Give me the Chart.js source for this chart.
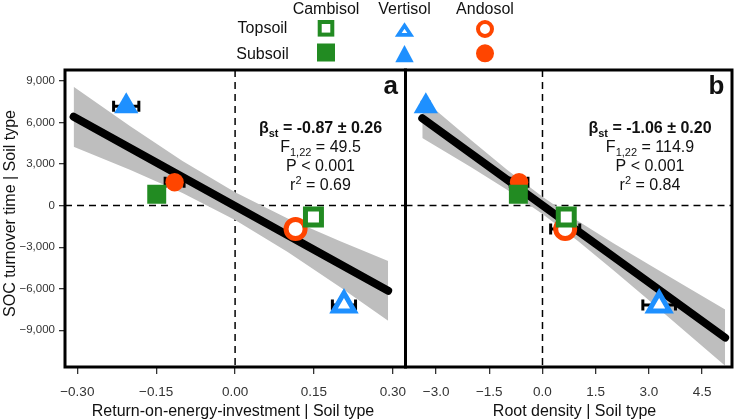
<!DOCTYPE html>
<html>
<head>
<meta charset="utf-8">
<script src="https://cdn.jsdelivr.net/npm/chart.js@4.4.1/dist/chart.umd.min.js"></script>
<style>
  html, body { margin: 0; padding: 0; background: #fff; }
  #wrap { position: relative; width: 749px; height: 420px; }
  #wrap canvas { position: absolute; left: 0; top: 0; }
</style>
</head>
<body>
<div id="wrap">
  <canvas id="panelA" width="749" height="420"></canvas>
  <canvas id="panelB" width="749" height="420"></canvas>
</div>
<script>
// soil groups (order: Cambisol, Vertisol, Andosol)
const soilTypes = ["Cambisol", "Vertisol", "Andosol"];
const layers = ["Topsoil", "Subsoil"];

// panel a: return-on-energy-investment | soil type
const roeiTop = [0.149, 0.207, 0.115];
const roeiSub = [-0.149, -0.207, -0.115];
const roeiTopErr = [0.006, 0.022, 0.010];
const roeiSubErr = [0.006, 0.024, 0.018];

// panel b: root density | soil type
const rootTop = [0.67, 3.29, 0.64];
const rootSub = [-0.68, -3.29, -0.66];
const rootTopErr = [0.10, 0.46, 0.41];
const rootSubErr = [0.10, 0.10, 0.25];

// SOC turnover time | soil type (same in both panels)
const socTop = [-830, -7180, -1690];
const socSub = [815, 7170, 1690];

// fitted lines and confidence bands
const fitAX = [-0.307, 0.291];
const fitAY = [6418, -6150];
const bandAX = [-0.307, -0.2, -0.1, 0, 0.1, 0.2, 0.291];
const bandAHi = [8578, 5751, 3228, 967, -921, -2574, -3990];
const bandALo = [4258, 2587, 908, -1035, -3351, -5900, -8310];

const fitBX = [-3.39, 5.15];
const fitBY = [6300, -9530];
const bandBX = [-3.39, -2, -1, 0, 1, 2, 3, 4, 5.15];
const bandBHi = [7720, 4699, 2595, 636, -1113, -2715, -4256, -5768, -7494];
const bandBLo = [4880, 2747, 1145, -604, -2563, -4667, -6834, -9028, -11566];

// ticks
const yTicks = [-9000, -6000, -3000, 0, 3000, 6000, 9000];
const yTickLabels = ["\u22129,000", "\u22126,000", "\u22123,000", "0", "3,000", "6,000", "9,000"];
const xTicksA = [-0.30, -0.15, 0, 0.15, 0.30];
const xTickLabelsA = ["\u22120.30", "\u22120.15", "0.00", "0.15", "0.30"];
const xTicksB = [-3.0, -1.5, 0, 1.5, 3.0, 4.5];
const xTickLabelsB = ["\u22123.0", "\u22121.5", "0.0", "1.5", "3.0", "4.5"];

// model statistics
const statsA = ["-0.87 \u00b1 0.26", "49.5", "< 0.001", "0.69"];
const statsB = ["-1.06 \u00b1 0.20", "114.9", "< 0.001", "0.84"];

const FONT = '"Liberation Sans", Arial, Helvetica, sans-serif';
const soilColors = ["#228b22", "#1e90ff", "#ff4500"];
const soilShapes = ["rect", "triangle", "circle"];
const filledRadius = { rect: 13.4, triangle: 14, circle: 9.2 };
const openRadius = { rect: 11.3, triangle: 12, circle: 9.5 };
const drawOrder = [2, 1, 0]; // Andosol under Vertisol under Cambisol

function buildDatasets(xTop, xSub, errTop, errSub, fitX, fitY, bandX, bandHi, bandLo) {
  const ds = [];
  ds.push({
    data: bandX.map((x, i) => ({ x, y: bandHi[i] })),
    showLine: true, fill: false, pointRadius: 0,
    borderWidth: 0, borderColor: "rgba(0,0,0,0)"
  });
  ds.push({
    data: bandX.map((x, i) => ({ x, y: bandLo[i] })),
    showLine: true, fill: "-1", backgroundColor: "#bebebe", pointRadius: 0,
    borderWidth: 0, borderColor: "rgba(0,0,0,0)"
  });
  ds.push({
    data: fitX.map((x, i) => ({ x, y: fitY[i] })),
    showLine: true, borderColor: "#000", borderWidth: 8, borderCapStyle: "round",
    pointRadius: 0
  });
  // horizontal error bars with end caps
  drawOrder.forEach(i => {
    [[xSub[i], errSub[i], socSub[i]], [xTop[i], errTop[i], socTop[i]]].forEach(([x, e, y]) => {
      ds.push({
        data: [{ x: x - e, y }, { x: x + e, y }],
        showLine: true, borderColor: "#000", borderWidth: 3,
        pointStyle: "line", pointRotation: 90, pointRadius: 5.5,
        pointBorderColor: "#000", pointBorderWidth: 3
      });
    });
  });
  drawOrder.forEach(i => {
    const shape = soilShapes[i];
    ds.push({
      data: [{ x: xSub[i], y: socSub[i] }],
      pointStyle: shape, pointRadius: filledRadius[shape],
      pointBackgroundColor: soilColors[i], pointBorderWidth: 0, pointBorderColor: soilColors[i]
    });
    ds.push({
      data: [{ x: xTop[i], y: socTop[i] }],
      pointStyle: shape, pointRadius: openRadius[shape],
      pointBackgroundColor: "#fff", pointBorderColor: soilColors[i], pointBorderWidth: 5
    });
  });
  ds.forEach((d, i) => { d.order = ds.length - i; });
  return ds;
}

function richLine(ctx, parts, cx, y) {
  let w = 0;
  parts.forEach(p => { ctx.font = p.f; w += ctx.measureText(p.t).width; });
  let x = cx - w / 2;
  parts.forEach(p => {
    ctx.font = p.f;
    ctx.fillText(p.t, x, y + (p.dy || 0));
    x += ctx.measureText(p.t).width;
  });
}

function drawStats(ctx, s, cx) {
  const big = `16px ${FONT}`, bigB = `bold 16px ${FONT}`;
  const sm = `11px ${FONT}`, smB = `bold 11px ${FONT}`;
  ctx.fillStyle = "#111";
  ctx.textAlign = "left";
  ctx.textBaseline = "alphabetic";
  richLine(ctx, [{ t: "\u03b2", f: bigB }, { t: "st", f: smB, dy: 4 }, { t: " = " + s[0], f: bigB }], cx, 132.7);
  richLine(ctx, [{ t: "F", f: big }, { t: "1,22", f: sm, dy: 4 }, { t: " = " + s[1], f: big }], cx, 151.7);
  richLine(ctx, [{ t: "P " + s[2], f: big }], cx, 171);
  richLine(ctx, [{ t: "r", f: big }, { t: "2", f: sm, dy: -6 }, { t: " = " + s[3], f: big }], cx, 190);
}

function drawLegend(ctx) {
  ctx.save();
  ctx.fillStyle = "#111";
  ctx.font = `16px ${FONT}`;
  ctx.textAlign = "center";
  ctx.textBaseline = "alphabetic";
  const colX = [326, 404.5, 485];
  soilTypes.forEach((s, i) => ctx.fillText(s, colX[i], 13.5));
  ctx.fillText(layers[0], 262.5, 32.5);
  ctx.fillText(layers[1], 262.5, 58.5);
  ctx.lineJoin = "miter";
  soilTypes.forEach((s, i) => {
    const x = colX[i];
    ctx.fillStyle = soilColors[i];
    ctx.strokeStyle = soilColors[i];
    if (soilShapes[i] === "rect") {
      ctx.lineWidth = 4;
      ctx.fillStyle = "#fff";
      ctx.fillRect(x - 6.3, 22, 12.6, 12.6);
      ctx.strokeRect(x - 6.3, 22, 12.6, 12.6);
      ctx.fillStyle = soilColors[i];
      ctx.fillRect(x - 9, 43.5, 18, 18);
    } else if (soilShapes[i] === "triangle") {
      ctx.lineWidth = 3.6;
      ctx.beginPath();
      ctx.moveTo(x, 25.4); ctx.lineTo(x + 6.3, 34.9); ctx.lineTo(x - 6.3, 34.9); ctx.closePath();
      ctx.fillStyle = "#fff"; ctx.fill(); ctx.stroke();
      ctx.fillStyle = soilColors[i];
      ctx.beginPath();
      ctx.moveTo(x, 45); ctx.lineTo(x + 9.2, 62.3); ctx.lineTo(x - 9.2, 62.3); ctx.closePath();
      ctx.fill();
    } else {
      ctx.lineWidth = 4;
      ctx.beginPath(); ctx.arc(x, 29, 7, 0, Math.PI * 2);
      ctx.fillStyle = "#fff"; ctx.fill(); ctx.stroke();
      ctx.fillStyle = soilColors[i];
      ctx.beginPath(); ctx.arc(x, 53.3, 9, 0, Math.PI * 2); ctx.fill();
    }
  });
  ctx.restore();
}

const panelPlugin = {
  id: "panel",
  beforeDatasetsDraw(chart) {
    const { ctx, chartArea: a, scales } = chart;
    ctx.save();
    ctx.beginPath();
    ctx.rect(a.left, a.top, a.right - a.left, a.bottom - a.top);
    ctx.clip();
    ctx.strokeStyle = "#000";
    ctx.lineWidth = 1.5;
    ctx.setLineDash([7, 5]);
    const y0 = scales.y.getPixelForValue(0);
    const x0 = scales.x.getPixelForValue(0);
    ctx.beginPath();
    ctx.moveTo(a.left, y0); ctx.lineTo(a.right, y0);
    ctx.moveTo(x0, a.top); ctx.lineTo(x0, a.bottom);
    ctx.stroke();
    ctx.restore();
  },
  afterDraw(chart, args, opts) {
    const { ctx, chartArea: a } = chart;
    ctx.save();
    ctx.strokeStyle = "#000";
    ctx.lineWidth = 3;
    ctx.strokeRect(a.left, a.top, a.right - a.left, a.bottom - a.top);
    ctx.fillStyle = "#111";
    ctx.font = `bold 26px ${FONT}`;
    ctx.textAlign = "right";
    ctx.textBaseline = "alphabetic";
    ctx.fillText(opts.letter, a.right - 7.5, 94);
    drawStats(ctx, opts.stats, opts.statsX);
    ctx.fillStyle = "#111";
    ctx.font = `16px ${FONT}`;
    ctx.textAlign = "center";
    ctx.fillText(opts.xTitle, opts.xTitleX, 415.5);
    if (opts.yTitle) {
      ctx.save();
      ctx.translate(14.5, 213.5);
      ctx.rotate(-Math.PI / 2);
      ctx.fillText(opts.yTitle, 0, 0);
      ctx.restore();
    }
    if (opts.legend) drawLegend(ctx);
    ctx.restore();
  }
};

function makeChart(id, cfg) {
  return new Chart(document.getElementById(id), {
    type: "scatter",
    data: { datasets: cfg.datasets },
    options: {
      responsive: false,
      animation: false,
      devicePixelRatio: 1,
      events: [],
      layout: { padding: cfg.padding },
      plugins: {
        legend: { display: false },
        tooltip: { enabled: false },
        panel: cfg.panel
      },
      scales: {
        x: {
          type: "linear", min: cfg.xMin, max: cfg.xMax,
          afterBuildTicks: s => { s.ticks = cfg.xTicks.map(v => ({ value: v })); },
          afterFit: s => { s.height = 53; },
          border: { display: false },
          grid: { drawOnChartArea: false, drawTicks: true, tickLength: 7, color: "#333", lineWidth: 1.3 },
          ticks: {
            callback: (v, i) => cfg.xLabels[i],
            font: { family: FONT, size: 13.5 }, color: "#333", padding: 10,
            maxRotation: 0, autoSkip: false
          }
        },
        y: {
          type: "linear", min: -11650, max: 9790,
          display: cfg.showY,
          afterBuildTicks: s => { s.ticks = yTicks.map(v => ({ value: v })); },
          afterFit: s => { s.width = cfg.showY ? 65 : 0; },
          border: { display: false },
          grid: { drawOnChartArea: false, drawTicks: true, tickLength: 6, color: "#333", lineWidth: 1.3 },
          ticks: {
            callback: (v, i) => yTickLabels[i],
            font: { family: FONT, size: 11.5 }, color: "#333", padding: 4, autoSkip: false
          }
        }
      }
    },
    plugins: [panelPlugin]
  });
}

makeChart("panelA", {
  datasets: buildDatasets(roeiTop, roeiSub, roeiTopErr, roeiSubErr, fitAX, fitAY, bandAX, bandAHi, bandALo),
  padding: { top: 70, right: 749 - 405.5, bottom: 0, left: 0 },
  xMin: -0.3234, xMax: 0.324,
  xTicks: xTicksA, xLabels: xTickLabelsA,
  showY: true,
  panel: {
    letter: "a", stats: statsA, statsX: 320.5,
    xTitle: "Return-on-energy-investment | Soil type", xTitleX: 233,
    yTitle: "SOC turnover time | Soil type", legend: true
  }
});

makeChart("panelB", {
  datasets: buildDatasets(rootTop, rootSub, rootTopErr, rootSubErr, fitBX, fitBY, bandBX, bandBHi, bandBLo),
  padding: { top: 70, right: 2, bottom: 0, left: 405.5 },
  xMin: -3.863, xMax: 5.344,
  xTicks: xTicksB, xLabels: xTickLabelsB,
  showY: false,
  panel: {
    letter: "b", stats: statsB, statsX: 650,
    xTitle: "Root density | Soil type", xTitleX: 574.5,
    yTitle: null, legend: false
  }
});
</script>
</body>
</html>
